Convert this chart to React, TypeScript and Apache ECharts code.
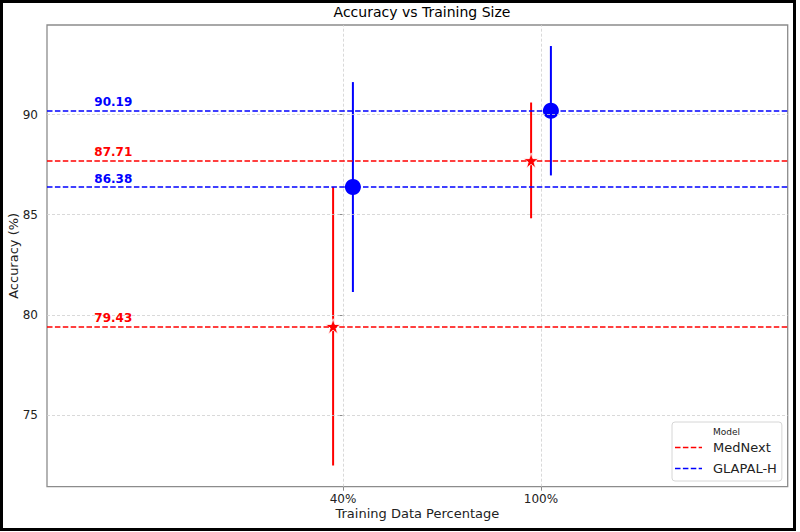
import React, { useEffect, useRef } from "react";
import * as echarts from "echarts";

const categories = ["40%", "100%"];
const medNextMean = [79.43, 87.71];
const medNextErr = [6.95, 2.89];
const glapalMean = [86.38, 90.19];
const glapalErr = [5.24, 3.23];
const yTicks = [75, 80, 85, 90];
const seriesNames = ["MedNext", "GLAPAL-H"];

const X_MIN = -1.495;
const X_MAX = 2.246;
const Y_MIN = 71.42;
const Y_MAX = 94.47;
const DODGE = 0.05;
const LABEL_X = -1.16;

const RED = "#ff0000";
const BLUE = "#0000ff";
const FONT = "DejaVu Sans";
const STAR =
  "path://M50,0 L61.8,35.4 L98.5,35.4 L68.8,57.3 L79.4,92.7 L50,70.8 L20.6,92.7 L31.2,57.3 L1.5,35.4 L38.2,35.4 Z";
const DASH_ICON =
  "path://M0,0H5.5V1.5H0Z M7.9,0H13.4V1.5H7.9Z M15.8,0H21.3V1.5H15.8Z M23.7,0H27V1.5H23.7Z";

export default function App() {
  const ref = useRef<HTMLDivElement>(null);

  useEffect(() => {
    if (!ref.current) return;
    const chart = echarts.init(ref.current, undefined, { renderer: "svg" });

    const catIdx = categories.map((_, i) => i);
    const medPts = catIdx.map((i) => [i - DODGE, medNextMean[i]]);
    const glaPts = catIdx.map((i) => [i + DODGE, glapalMean[i]]);
    const medErr = catIdx.map((i) => [i - DODGE, medNextMean[i] - medNextErr[i], medNextMean[i] + medNextErr[i]]);
    const glaErr = catIdx.map((i) => [i + DODGE, glapalMean[i] - glapalErr[i], glapalMean[i] + glapalErr[i]]);

    const errRender = (color: string) => (params: any, api: any) => {
      const x = api.value(0);
      const p1 = api.coord([x, api.value(1)]);
      const p2 = api.coord([x, api.value(2)]);
      return {
        type: "line",
        shape: { x1: p1[0], y1: p1[1], x2: p2[0], y2: p2[1] },
        style: { stroke: color, lineWidth: 2 },
      };
    };

    const labelData = [
      ...medNextMean.map((v) => [LABEL_X, v, 0]),
      ...glapalMean.map((v) => [LABEL_X, v, 1]),
    ];

    const dash = [5.5, 2.4];

    chart.setOption({
      animation: false,
      textStyle: { fontFamily: FONT },
      title: {
        text: "Accuracy vs Training Size",
        left: 417,
        top: 0,
        textAlign: "center",
        textStyle: { fontFamily: FONT, fontSize: 14, fontWeight: "normal", color: "#000" },
      },
      grid: {
        left: 47,
        right: 12.3,
        top: 25,
        bottom: 45.3,
        outerBoundsMode: "none",
        containLabel: false,
        show: true,
        borderColor: "#8c8c8c",
        borderWidth: 1.3,
        backgroundColor: "transparent",
      },
      legend: {
        data: seriesNames.map((n) => ({ name: n, icon: DASH_ICON })),
        orient: "vertical",
        left: 672,
        top: 422,
        padding: [19, 5, 6, 3],
        backgroundColor: "rgba(255,255,255,0.85)",
        borderColor: "#d6d6d6",
        borderWidth: 1,
        borderRadius: 3,
        itemWidth: 27,
        itemHeight: 14,
        itemGap: 8,
        symbolKeepAspect: true,
        textStyle: { fontFamily: FONT, fontSize: 13, color: "#222", padding: [0, 0, 0, 6] },
      },
      xAxis: {
        type: "value",
        min: X_MIN,
        max: X_MAX,
        name: "Training Data Percentage",
        nameLocation: "middle",
        nameGap: 20,
        nameMoveOverlap: false,
        nameTextStyle: { fontFamily: FONT, fontSize: 13, color: "#222" },
        axisLine: { show: false },
        axisTick: { show: true, length: 4, customValues: catIdx, lineStyle: { color: "#8c8c8c" } },
        axisLabel: {
          customValues: catIdx,
          margin: 6,
          fontFamily: FONT,
          fontSize: 12,
          color: "#222",
          formatter: (v: number) => categories[Math.round(v)] ?? "",
        },
        splitLine: { show: false },
      },
      yAxis: {
        type: "value",
        min: Y_MIN,
        max: Y_MAX,
        name: "Accuracy (%)",
        nameLocation: "middle",
        nameGap: 27,
        nameMoveOverlap: false,
        nameTextStyle: { fontFamily: FONT, fontSize: 13, color: "#222" },
        axisLine: { show: false },
        axisTick: { show: true, length: 5, customValues: yTicks, lineStyle: { color: "#8c8c8c" } },
        axisLabel: {
          customValues: yTicks,
          margin: 9,
          fontFamily: FONT,
          fontSize: 12,
          color: "#222",
        },
        splitLine: { show: false },
      },
      graphic: [
        {
          type: "text",
          left: 713,
          top: 427,
          style: { text: "Model", fontFamily: FONT, fontSize: 9, fill: "#222" },
          z: 51,
        },
        {
          type: "rect",
          shape: { x: 1.5, y: 1.5, width: 793, height: 528 },
          style: { fill: "none", stroke: "#000", lineWidth: 3 },
          z: 100,
          silent: true,
        },
      ],
      series: [
        {
          name: "gridlines",
          type: "line",
          data: [],
          silent: true,
          z: 1,
          markLine: {
            silent: true,
            symbol: ["none", "none"],
            label: { show: false },
            lineStyle: { color: "#cfcfcf", type: [3, 2], width: 0.8 },
            data: [
              ...yTicks.map((v) => ({ yAxis: v })),
              ...catIdx.map((v) => ({ xAxis: v })),
            ],
          },
        },
        {
          name: seriesNames[0],
          type: "line",
          data: [],
          symbol: "none",
          color: RED,
          itemStyle: { color: RED },
          lineStyle: { color: RED, type: dash, width: 1.5 },
          z: 2,
          markLine: {
            silent: true,
            symbol: ["none", "none"],
            label: { show: false },
            lineStyle: { color: RED, type: dash, width: 1.5 },
            data: medNextMean.map((v) => ({ yAxis: v })),
          },
        },
        {
          name: seriesNames[1],
          type: "line",
          data: [],
          symbol: "none",
          color: BLUE,
          itemStyle: { color: BLUE },
          lineStyle: { color: BLUE, type: dash, width: 1.5 },
          z: 2,
          markLine: {
            silent: true,
            symbol: ["none", "none"],
            label: { show: false },
            lineStyle: { color: BLUE, type: dash, width: 1.5 },
            data: glapalMean.map((v) => ({ yAxis: v })),
          },
        },
        {
          name: "medErr",
          type: "custom",
          data: medErr,
          encode: { x: 0, y: [1, 2] },
          renderItem: errRender(RED),
          z: 3,
          silent: true,
        },
        {
          name: "glaErr",
          type: "custom",
          data: glaErr,
          encode: { x: 0, y: [1, 2] },
          renderItem: errRender(BLUE),
          z: 3,
          silent: true,
        },
        {
          name: "medPts",
          type: "scatter",
          data: medPts,
          symbol: STAR,
          symbolSize: 15,
          itemStyle: { color: RED, borderColor: "#fff", borderWidth: 0.8, opacity: 1 },
          z: 4,
        },
        {
          name: "glaPts",
          type: "scatter",
          data: glaPts,
          symbol: "circle",
          symbolSize: 16,
          itemStyle: { color: BLUE, opacity: 1 },
          z: 4,
        },
        {
          name: "valueLabels",
          type: "custom",
          data: labelData,
          encode: { x: 0, y: 1 },
          silent: true,
          z: 5,
          renderItem: (params: any, api: any) => {
            const p = api.coord([api.value(0), api.value(1)]);
            const which = api.value(2);
            return {
              type: "text",
              x: p[0],
              y: p[1] - 8.5,
              style: {
                text: Number(api.value(1)).toFixed(2),
                fontFamily: FONT,
                fontSize: 12,
                fontWeight: "bold",
                fill: which === 0 ? RED : BLUE,
                align: "center",
                verticalAlign: "middle",
              },
            };
          },
        },
      ],
    });

    return () => chart.dispose();
  }, []);

  return (
    <div
      ref={ref}
      style={{ position: "fixed", left: 0, top: 0, width: 800, height: 532, background: "#fff" }}
    />
  );
}
